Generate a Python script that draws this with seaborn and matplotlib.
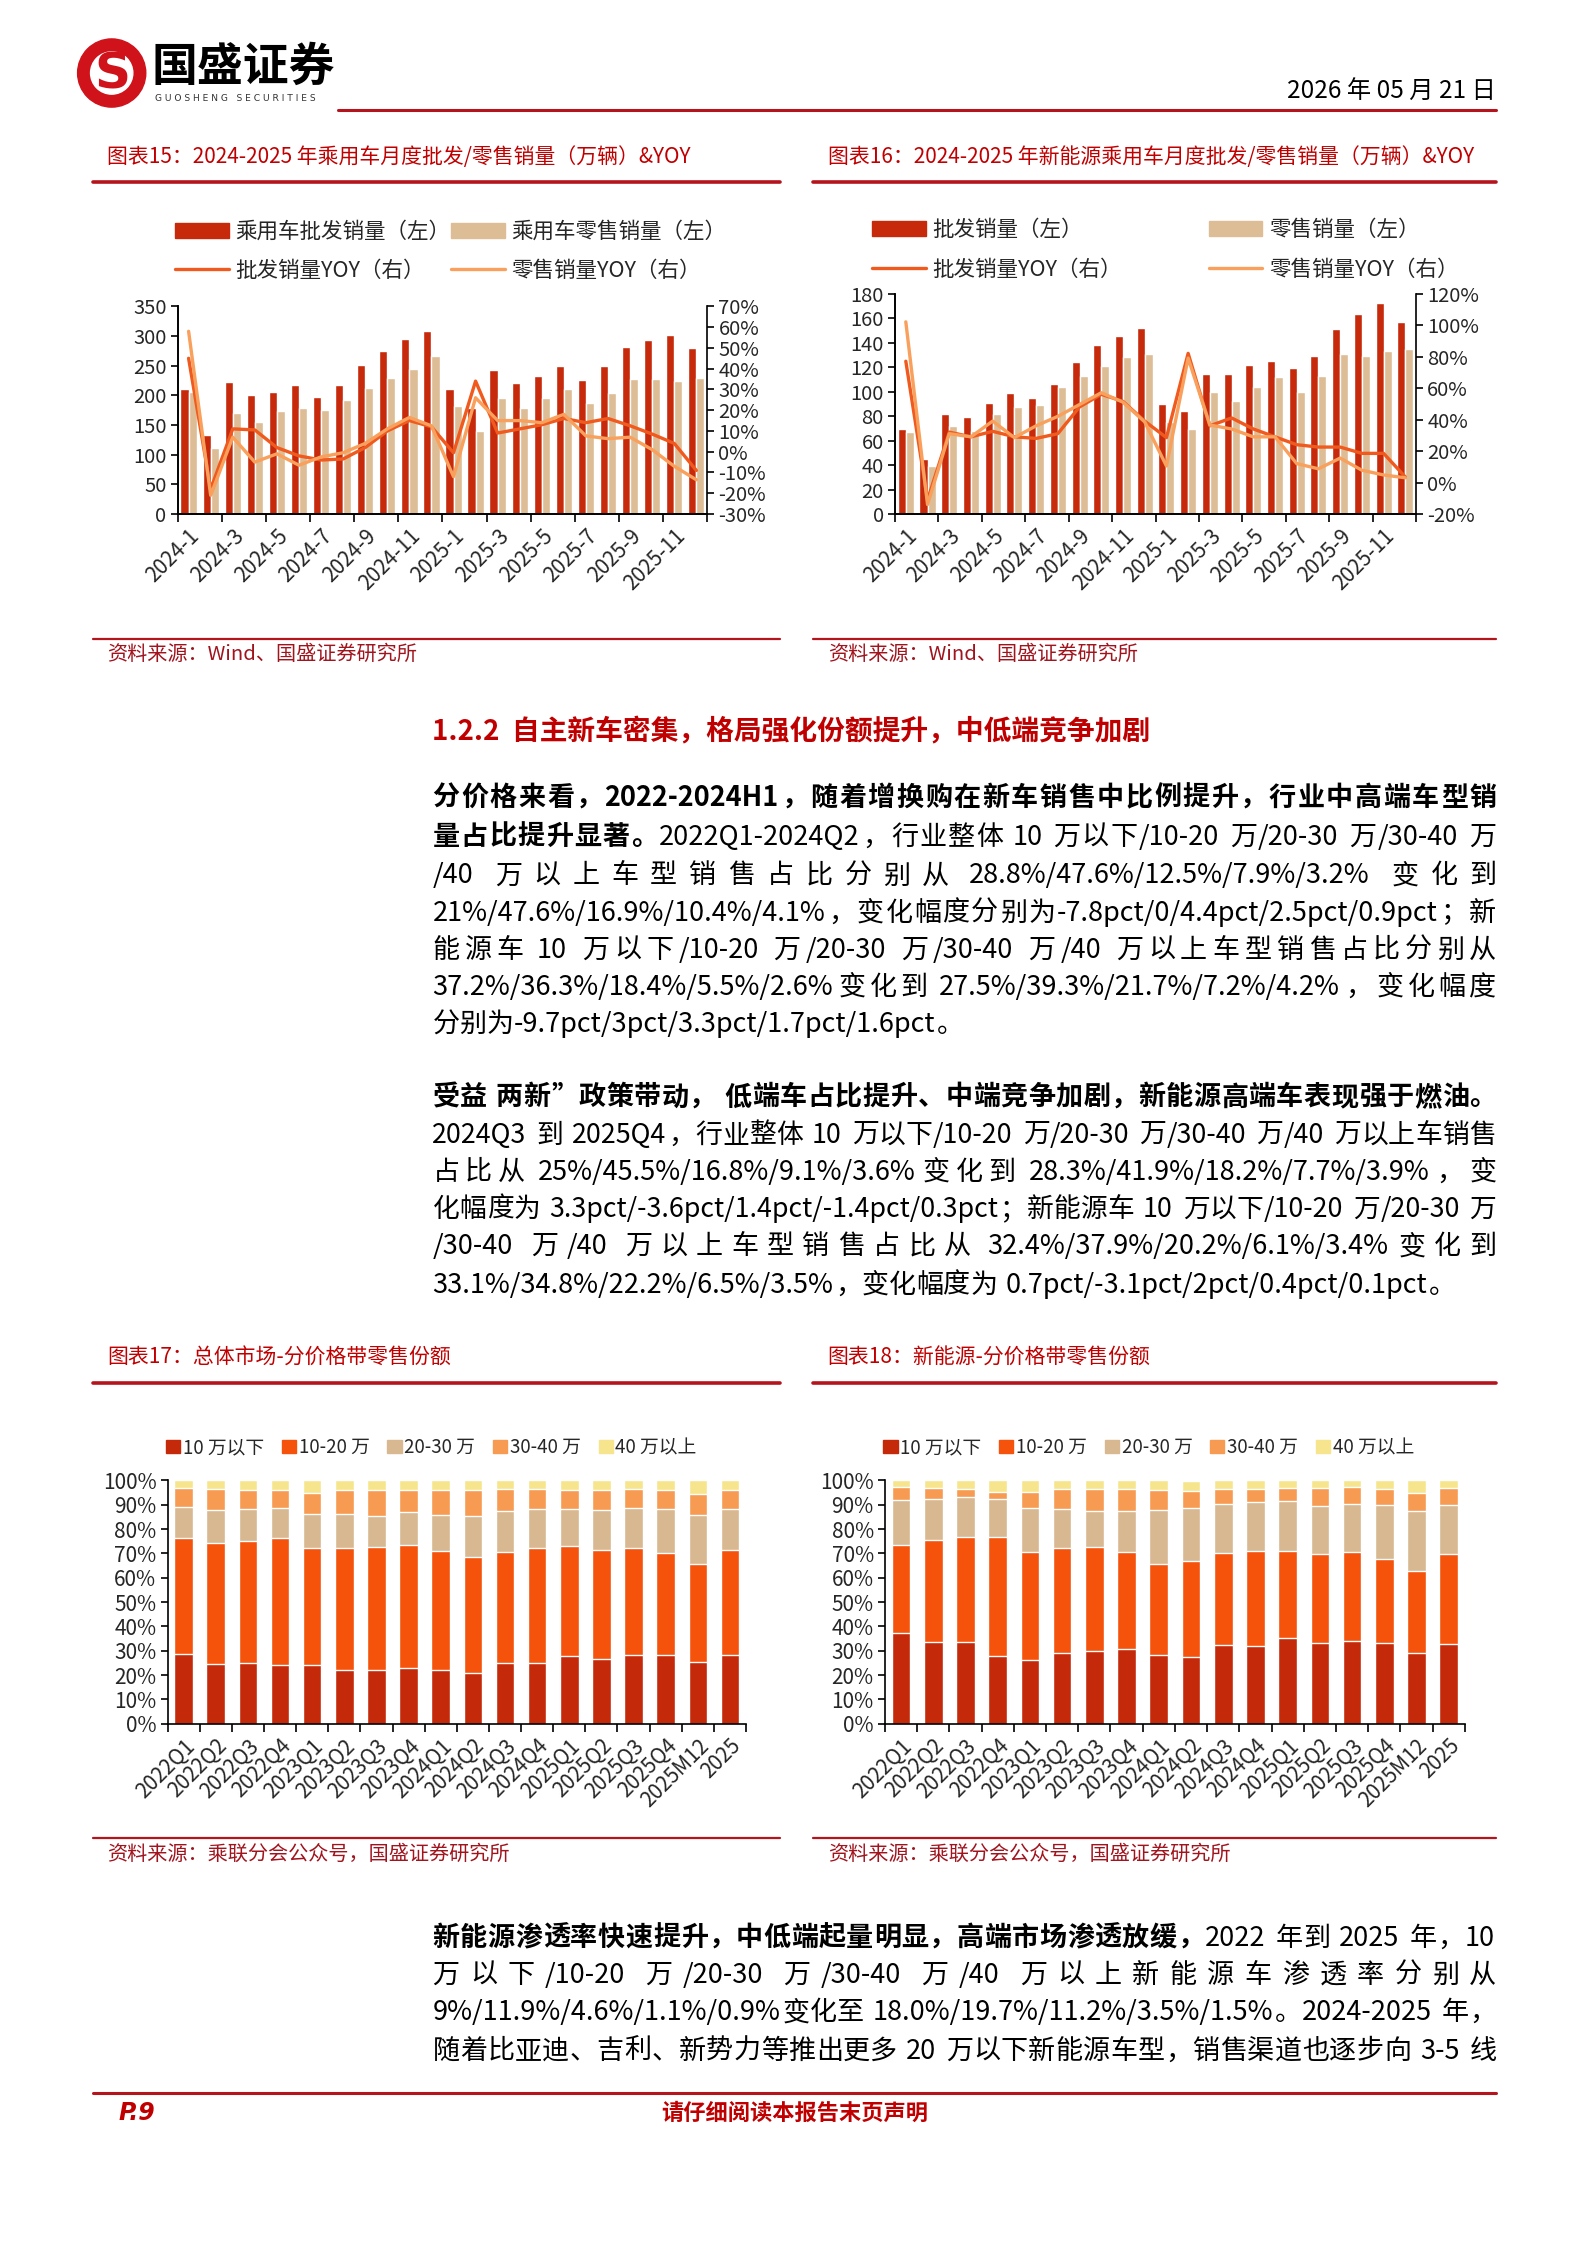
import numpy as np
import pandas as pd
import matplotlib
matplotlib.use("Agg")
import matplotlib.pyplot as plt
import seaborn as sns
from matplotlib.lines import Line2D
from matplotlib.patches import Patch, Circle
from matplotlib.ticker import PercentFormatter

# ---- data ----
months = ["2024-1", "2024-2", "2024-3", "2024-4", "2024-5", "2024-6", "2024-7", "2024-8",
          "2024-9", "2024-10", "2024-11", "2024-12", "2025-1", "2025-2", "2025-3", "2025-4",
          "2025-5", "2025-6", "2025-7", "2025-8", "2025-9", "2025-10", "2025-11", "2025-12"]

# chart 15: passenger cars (万辆, %)
pv_wholesale = [211, 134, 223, 200, 206, 218, 198, 217, 252, 275, 295, 309,
                211, 178, 243, 221, 233, 250, 226, 249, 281, 294, 301, 280]
pv_retail = [206, 111, 171, 155, 173, 179, 175, 193, 213, 229, 244, 266,
             182, 140, 196, 179, 196, 211, 187, 204, 227, 227, 225, 229]
pv_wholesale_yoy = [45, -18, 11, 10.5, 2, -2, -4, -3.5, 2, 10, 15, 12,
                    -0.5, 34, 9, 11, 13, 16, 14, 16, 12.5, 8.5, 4, -9]
pv_retail_yoy = [58, -21, 7, -5, -1, -6.5, -2.5, -0.5, 4, 11, 16.5, 12.5,
                 -12, 26, 15, 15, 14, 18, 7.6, 6.3, 7, 1, -7, -13.5]

# chart 16: new energy passenger cars
nev_wholesale = [69, 45, 82, 79, 91, 99, 95, 106, 124, 138, 145, 152,
                 90, 84, 114, 114, 122, 125, 119, 129, 151, 163, 172, 157]
nev_retail = [67, 39, 72, 68, 82, 87, 89, 104, 113, 121, 128, 131,
              75, 69, 100, 92, 104, 112, 100, 113, 131, 129, 133, 135]
nev_wholesale_yoy = [77, -11, 32, 29, 32.5, 29, 28, 31, 48, 56, 51.5, 39,
                     28.5, 82, 36, 41, 34, 29, 24, 22.5, 22.5, 18.5, 18.5, 3.5]
nev_retail_yoy = [102, -14, 31, 29, 39, 28.5, 36, 42, 49.5, 57, 51, 38.5,
                  10.5, 79, 36.5, 34, 29, 29, 12, 8.7, 15.5, 7.8, 4.8, 3]

# charts 17/18: retail share by price band (%)
periods = ["2022Q1", "2022Q2", "2022Q3", "2022Q4", "2023Q1", "2023Q2", "2023Q3", "2023Q4",
           "2024Q1", "2024Q2", "2024Q3", "2024Q4", "2025Q1", "2025Q2", "2025Q3", "2025Q4",
           "2025M12", "2025"]
bands = ["10 万以下", "10-20 万", "20-30 万", "30-40 万", "40 万以上"]

all_under10 = [28.8, 24.4, 24.9, 24.0, 24.0, 22.0, 22.2, 22.9, 22.3, 21.0, 25.0, 24.9, 27.7, 26.7, 28.1, 28.3, 25.5, 28.1]
all_10_20 = [47.6, 50.0, 50.4, 52.4, 48.2, 50.2, 50.4, 50.5, 48.7, 47.6, 45.5, 47.3, 45.2, 44.8, 44.2, 41.9, 40.3, 43.4]
all_20_30 = [12.5, 13.3, 13.1, 12.4, 14.1, 14.1, 12.9, 13.6, 14.9, 16.9, 16.8, 16.0, 15.2, 16.2, 16.5, 18.2, 20.1, 16.6]
all_30_40 = [7.9, 8.6, 7.5, 7.1, 8.5, 9.6, 10.4, 8.9, 10.0, 10.4, 9.1, 8.1, 7.8, 8.2, 7.8, 7.7, 8.6, 7.8]
all_over40 = [3.2, 3.7, 4.1, 4.1, 5.2, 4.1, 4.1, 4.1, 4.1, 4.1, 3.6, 3.7, 4.1, 4.1, 3.4, 3.9, 5.5, 4.1]

nev_under10 = [37.2, 33.8, 33.6, 27.8, 26.2, 29.0, 29.9, 30.7, 28.4, 27.5, 32.4, 31.8, 35.1, 33.3, 34.2, 33.1, 29.0, 32.9]
nev_10_20 = [36.3, 41.8, 43.2, 48.9, 44.3, 43.2, 42.7, 40.1, 37.4, 39.3, 37.9, 39.2, 35.9, 36.3, 36.3, 34.8, 33.6, 36.7]
nev_20_30 = [18.4, 16.9, 16.6, 15.5, 18.1, 16.2, 14.7, 16.6, 21.9, 21.7, 20.2, 20.0, 20.5, 20.0, 20.0, 22.2, 24.9, 20.5]
nev_30_40 = [5.5, 4.5, 3.0, 3.1, 6.5, 7.9, 9.0, 8.9, 8.2, 7.2, 6.1, 5.6, 5.5, 7.2, 6.8, 6.5, 7.4, 6.6]
nev_over40 = [2.6, 3.0, 3.6, 4.7, 4.9, 3.7, 3.7, 3.7, 4.1, 4.2, 3.4, 3.4, 3.0, 3.2, 2.7, 3.5, 5.1, 3.3]

# colours
RED = "#C00000"
LINE_RED = "#B5141C"
SRC_RED = "#A0141E"
C_WS = "#C7290B"
C_RT = "#DDBD95"
C_WS_L = "#F05A1E"
C_RT_L = "#F8A05C"
BAND_COLORS = ["#C42A0A", "#F5520C", "#D8B891", "#F79A52", "#F6E58C"]

sns.set_theme(style="ticks")
plt.rcParams["font.family"] = ["Noto Sans CJK SC", "DejaVu Sans"]
plt.rcParams["axes.unicode_minus"] = False

fig = plt.figure(figsize=(15.88, 22.45), dpi=100)
renderer = fig.canvas.get_renderer()
S = 1588 / 1109


def fx(x):
    return x / 1109


def fy(y):
    return 1 - y / 1568


def rect(l, t, r, b):
    return [fx(l), fy(b), fx(r) - fx(l), fy(t) - fy(b)]


def hline(x0, x1, y, lw, color=LINE_RED):
    fig.add_artist(Line2D([fx(x0), fx(x1)], [fy(y), fy(y)], transform=fig.transFigure,
                          color=color, lw=lw))


def measure(s, size, weight):
    t = fig.text(0, 0, s, fontsize=size, weight=weight)
    w = t.get_window_extent(renderer).width
    t.remove()
    return w


def body_line(segments, y, justify=True, size=19.5, x0=302, x1=1045):
    toks = []
    space = False
    for text, bold in segments:
        buf = ""
        for ch in text:
            if ch == " ":
                if buf:
                    toks.append([buf, bold, space])
                    buf = ""
                    space = False
                space = True
            elif ord(ch) < 0x2000:
                buf += ch
            else:
                if buf:
                    toks.append([buf, bold, space])
                    buf = ""
                    space = False
                toks.append([ch, bold, space])
                space = False
        if buf:
            toks.append([buf, bold, space])
            space = False

    target = (x1 - x0) * S
    for _ in range(2):
        em = size * 100 / 72
        widths = []
        for tok, bold, sp in toks:
            if ord(tok[0]) >= 0x2000:
                widths.append(em)
            else:
                widths.append(measure(tok, size, "bold" if bold else "normal") + 0.06 * em)
        total = sum(widths) + sum(0.3 * em for t in toks[1:] if t[2])
        if total <= target:
            break
        size = size * target / total * 0.995
    extra = (target - total) / (len(toks) - 1) if justify else 0
    x = x0 * S
    for i, (tok, bold, sp) in enumerate(toks):
        if i > 0:
            x += extra + (0.3 * em if sp else 0)
        fig.text(x / 1588, fy(y + 7), tok, fontsize=size, weight="bold" if bold else "normal",
                 ha="left", va="baseline", color="black")
        x += widths[i]


def combo_chart(box, ws, rt, ws_yoy, rt_yoy, ymax, ystep, y2min, y2max, y2step):
    ax = fig.add_axes(rect(*box))
    df = pd.DataFrame({"month": months + months, "value": ws + rt,
                       "kind": ["批发"] * len(months) + ["零售"] * len(months)})
    sns.barplot(data=df, x="month", y="value", hue="kind", palette=[C_WS, C_RT],
                width=0.74, saturation=1, legend=False, ax=ax)
    ax2 = ax.twinx()
    sns.lineplot(x=np.arange(len(months)), y=ws_yoy, color=C_WS_L, lw=2.4, ax=ax2)
    sns.lineplot(x=np.arange(len(months)), y=rt_yoy, color=C_RT_L, lw=2.4, ax=ax2)
    ax.set_xlim(-0.5, len(months) - 0.5)
    ax.set_ylim(0, ymax)
    ax.set_yticks(np.arange(0, ymax + 1, ystep))
    ax2.set_ylim(y2min, y2max)
    ax2.set_yticks(np.arange(y2min, y2max + 1, y2step))
    ax2.yaxis.set_major_formatter(PercentFormatter(100, decimals=0))
    ax.set_xticks(range(0, len(months), 2))
    ax.set_xticklabels(months[::2], rotation=45, ha="right", rotation_mode="anchor")
    ax.set_xticks(np.arange(-0.5, len(months), 2), minor=True)
    ax.tick_params(axis="x", which="major", length=0, pad=8, labelsize=15)
    ax.tick_params(axis="x", which="minor", length=6, width=1.2, color="black")
    ax.tick_params(axis="y", labelsize=14.5, length=5, width=1.2, color="black", pad=3)
    ax2.tick_params(axis="y", labelsize=14.5, length=5, width=1.2, color="black", pad=3)
    for a in (ax, ax2):
        a.set_xlabel("")
        a.set_ylabel("")
        a.spines["top"].set_visible(False)
        for s in ("left", "right", "bottom"):
            a.spines[s].set_color("black")
            a.spines[s].set_linewidth(1.2)
    ax.spines["right"].set_visible(False)
    return ax


def combo_legend(labels, xa, xb, ymid):
    kw = dict(frameon=False, fontsize=15.5, handlelength=2.5, handleheight=0.7,
              handletextpad=0.3, labelspacing=0.8, borderpad=0, borderaxespad=0,
              loc="center left", bbox_transform=fig.transFigure)
    fig.legend([Patch(color=C_WS), Line2D([], [], color=C_WS_L, lw=2.4)], [labels[0], labels[2]],
               bbox_to_anchor=(fx(xa), fy(ymid)), **kw)
    fig.legend([Patch(color=C_RT), Line2D([], [], color=C_RT_L, lw=2.4)], [labels[1], labels[3]],
               bbox_to_anchor=(fx(xb), fy(ymid)), **kw)


def share_chart(box, shares, legend_x):
    ax = fig.add_axes(rect(*box))
    cum = np.cumsum(np.array(shares), axis=0)
    for i in range(len(bands) - 1, -1, -1):
        sns.barplot(x=periods, y=cum[i], color=BAND_COLORS[i], width=0.58, saturation=1, ax=ax)
    ax.set_xlim(-0.5, len(periods) - 0.5)
    ax.set_ylim(0, 100)
    ax.set_yticks(np.arange(0, 101, 10))
    ax.yaxis.set_major_formatter(PercentFormatter(100, decimals=0))
    ax.set_xticks(range(len(periods)))
    ax.set_xticklabels(periods, rotation=45, ha="right", rotation_mode="anchor")
    ax.set_xticks(np.arange(-0.5, len(periods), 1), minor=True)
    ax.tick_params(axis="x", which="major", length=0, pad=8, labelsize=15)
    ax.tick_params(axis="x", which="minor", length=6, width=1.2, color="black")
    ax.tick_params(axis="y", labelsize=15, length=5, width=1.2, color="black", pad=3)
    ax.set_xlabel("")
    ax.set_ylabel("")
    sns.despine(ax=ax)
    for s in ("left", "bottom"):
        ax.spines[s].set_color("black")
        ax.spines[s].set_linewidth(1.2)
    fig.legend([Patch(color=c) for c in BAND_COLORS], bands, ncol=5, frameon=False,
               fontsize=13.5, handlelength=0.75, handleheight=0.75, handletextpad=0.15,
               columnspacing=0.95, borderpad=0, borderaxespad=0, loc="center left",
               bbox_to_anchor=(fx(legend_x), fy(1011)), bbox_transform=fig.transFigure)


# ---- header ----
logo = fig.add_axes(rect(53, 26, 103, 76))
logo.set_aspect("equal")
logo.set_xlim(-1.05, 1.05)
logo.set_ylim(-1.05, 1.05)
logo.axis("off")
logo.add_patch(Circle((0, 0), 1.0, color="#D0121B"))
logo.add_patch(Circle((0, 0), 0.62, color="white"))
logo.text(0.02, -0.04, "S", fontsize=36, weight="bold", color="#D0121B", ha="center", va="center",
          family="DejaVu Sans")
fig.text(fx(106), fy(47), "国盛证券", fontsize=33, weight="bold", ha="left", va="center", color="black")
fig.text(fx(108), fy(69), "G U O S H E N G   S E C U R I T I E S", fontsize=6.6, ha="left",
         va="center", color="#333333", family="DejaVu Sans")
hline(236, 1045, 77, 2.2)
fig.text(fx(1045), fy(64), "2026 年 05 月 21 日", fontsize=17.5, ha="right", va="center", color="black")

# ---- charts 15 / 16 ----
fig.text(fx(75), fy(110), "图表15：2024-2025 年乘用车月度批发/零售销量（万辆）&YOY", fontsize=15,
         color=RED, ha="left", va="center")
fig.text(fx(578), fy(110), "图表16：2024-2025 年新能源乘用车月度批发/零售销量（万辆）&YOY", fontsize=15,
         color=RED, ha="left", va="center")
hline(65, 545, 127, 2.6)
hline(568, 1045, 127, 2.6)

combo_chart((124, 214, 494, 359), pv_wholesale, pv_retail, pv_wholesale_yoy, pv_retail_yoy,
            350, 50, -30, 70, 10)
combo_legend(["乘用车批发销量（左）", "乘用车零售销量（左）", "批发销量YOY（右）", "零售销量YOY（右）"],
             122, 315, 175.5)
combo_chart((625, 205, 989, 359), nev_wholesale, nev_retail, nev_wholesale_yoy, nev_retail_yoy,
            180, 20, -20, 120, 20)
combo_legend(["批发销量（左）", "零售销量（左）", "批发销量YOY（右）", "零售销量YOY（右）"],
             609, 844, 174.5)

hline(65, 545, 446, 1.6)
hline(568, 1045, 446, 1.6)
fig.text(fx(75), fy(457), "资料来源：Wind、国盛证券研究所", fontsize=14.5, color=SRC_RED, ha="left", va="center")
fig.text(fx(578), fy(457), "资料来源：Wind、国盛证券研究所", fontsize=14.5, color=SRC_RED, ha="left", va="center")

# ---- body text ----
fig.text(fx(302), fy(511), "1.2.2  自主新车密集，格局强化份额提升，中低端竞争加剧", fontsize=20,
         weight="bold", color=RED, ha="left", va="center")

body_line([("分价格来看，2022-2024H1，随着增换购在新车销售中比例提升，行业中高端车型销", True)], 556)
body_line([("量占比提升显著。", True), ("2022Q1-2024Q2，行业整体 10 万以下/10-20 万/20-30 万/30-40 万", False)], 583)
body_line([("/40 万以上车型销售占比分别从 28.8%/47.6%/12.5%/7.9%/3.2% 变化到", False)], 610)
body_line([("21%/47.6%/16.9%/10.4%/4.1%，变化幅度分别为-7.8pct/0/4.4pct/2.5pct/0.9pct；新", False)], 636)
body_line([("能源车 10 万以下/10-20 万/20-30 万/30-40 万/40 万以上车型销售占比分别从", False)], 662)
body_line([("37.2%/36.3%/18.4%/5.5%/2.6%变化到 27.5%/39.3%/21.7%/7.2%/4.2%，变化幅度", False)], 688)
body_line([("分别为-9.7pct/3pct/3.3pct/1.7pct/1.6pct。", False)], 714, justify=False)

body_line([("受益 两新”政策带动， 低端车占比提升、中端竞争加剧，新能源高端车表现强于燃油。", True)], 765)
body_line([("2024Q3 到 2025Q4，行业整体 10 万以下/10-20 万/20-30 万/30-40 万/40 万以上车销售", False)], 791)
body_line([("占比从 25%/45.5%/16.8%/9.1%/3.6%变化到 28.3%/41.9%/18.2%/7.7%/3.9%，变", False)], 817)
body_line([("化幅度为 3.3pct/-3.6pct/1.4pct/-1.4pct/0.3pct；新能源车 10 万以下/10-20 万/20-30 万", False)], 843)
body_line([("/30-40 万/40 万以上车型销售占比从 32.4%/37.9%/20.2%/6.1%/3.4%变化到", False)], 869)
body_line([("33.1%/34.8%/22.2%/6.5%/3.5%，变化幅度为 0.7pct/-3.1pct/2pct/0.4pct/0.1pct。", False)], 896,
          justify=False)

# ---- charts 17 / 18 ----
fig.text(fx(75), fy(948), "图表17：总体市场-分价格带零售份额", fontsize=15, color=RED, ha="left", va="center")
fig.text(fx(578), fy(948), "图表18：新能源-分价格带零售份额", fontsize=15, color=RED, ha="left", va="center")
hline(65, 545, 966, 2.6)
hline(568, 1045, 966, 2.6)

share_chart((117, 1034, 521, 1204), [all_under10, all_10_20, all_20_30, all_30_40, all_over40], 116)
share_chart((618, 1034, 1023, 1204), [nev_under10, nev_10_20, nev_20_30, nev_30_40, nev_over40], 617)

hline(65, 545, 1284, 1.6)
hline(568, 1045, 1284, 1.6)
fig.text(fx(75), fy(1295), "资料来源：乘联分会公众号，国盛证券研究所", fontsize=14.5, color=SRC_RED,
         ha="left", va="center")
fig.text(fx(578), fy(1295), "资料来源：乘联分会公众号，国盛证券研究所", fontsize=14.5, color=SRC_RED,
         ha="left", va="center")

body_line([("新能源渗透率快速提升，中低端起量明显，高端市场渗透放缓，", True), ("2022 年到 2025 年，10", False)], 1352)
body_line([("万以下/10-20 万/20-30 万/30-40 万/40 万以上新能源车渗透率分别从", False)], 1378)
body_line([("9%/11.9%/4.6%/1.1%/0.9%变化至 18.0%/19.7%/11.2%/3.5%/1.5%。2024-2025 年，", False)], 1404)
body_line([("随着比亚迪、吉利、新势力等推出更多 20 万以下新能源车型，销售渠道也逐步向 3-5 线", False)], 1431)

# ---- footer ----
hline(65, 1045, 1462, 2.2)
fig.text(fx(83), fy(1476), "P.9", fontsize=17, weight="bold", style="italic", color=RED,
         ha="left", va="center", family="DejaVu Sans")
fig.text(fx(555), fy(1476), "请仔细阅读本报告末页声明", fontsize=16, weight="bold", color=RED,
         ha="center", va="center")

fig.savefig("out.png", dpi=100, facecolor="white")
